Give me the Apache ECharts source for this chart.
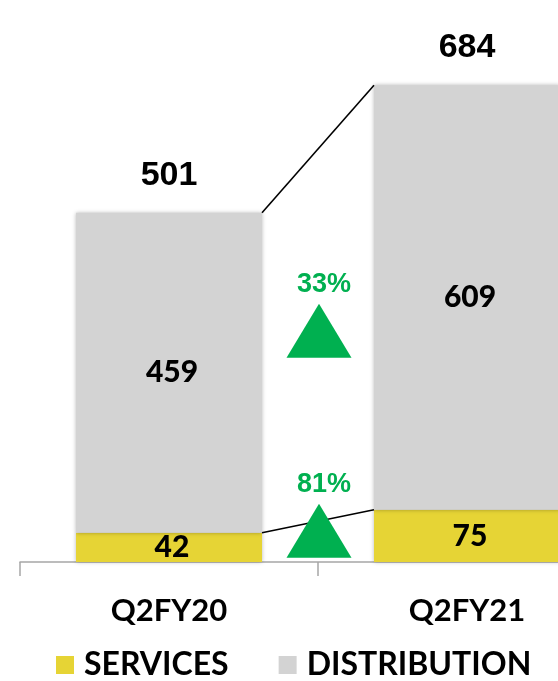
<!DOCTYPE html>
<html>
<head>
<meta charset="utf-8">
<script src="https://cdn.jsdelivr.net/npm/echarts@6/dist/echarts.min.js"></script>
<style>
html,body{margin:0;padding:0;background:#fff;}
#c{width:558px;height:681px;}
</style>
</head>
<body>
<div id="c"></div>
<script>
const categories = ['Q2FY20', 'Q2FY21'];
const services = [42, 75];
const distribution = [459, 609];
const totals = [501, 684];
const growth = ['33%', '81%'];
const seriesNames = ['SERVICES', 'DISTRIBUTION'];

const BAR_W = 186;
const YELLOW = '#E6D435';
const GRAY = '#D3D3D3';
const GREEN = '#00B050';
const CAT_FONT = 'Lato';
const NUM_FONT = 'Liberation Sans';

const chart = echarts.init(document.getElementById('c'), null, {renderer: 'canvas'});

const barShadow = {shadowBlur: 4, shadowColor: 'rgba(0,0,0,0.28)', shadowOffsetX: 0, shadowOffsetY: 0};
const innerLabel = {
  show: true, position: 'inside', color: '#000', fontFamily: CAT_FONT,
  fontWeight: 900, fontSize: 30, offset: [3, 0]
};

chart.setOption({
  animation: false,
  grid: {left: 20, width: 596, top: 74, bottom: 119, containLabel: false, outerBoundsMode: 'none'},
  legend: {
    data: seriesNames,
    left: 56, top: 649, padding: 0,
    icon: 'rect', itemWidth: 18, itemHeight: 18, itemGap: 50,
    textStyle: {color: '#000', fontFamily: CAT_FONT, fontWeight: 'bold', fontSize: 32, padding: [0, 0, 0, 5]}
  },
  xAxis: {
    type: 'category', data: categories,
    axisLine: {lineStyle: {color: '#A6A6A6', width: 1.5}},
    axisTick: {show: true, length: 14, lineStyle: {color: '#A6A6A6', width: 1.5}},
    axisLabel: {color: '#000', fontFamily: CAT_FONT, fontWeight: 'bold', fontSize: 31, margin: 33}
  },
  yAxis: {type: 'value', min: 0, max: 700, show: false, splitLine: {show: false}},
  series: [
    {
      name: seriesNames[0], type: 'bar', stack: 'total', barWidth: BAR_W,
      data: services, itemStyle: Object.assign({color: YELLOW}, barShadow),
      label: innerLabel
    },
    {
      name: seriesNames[1], type: 'bar', stack: 'total', barWidth: BAR_W,
      data: distribution, itemStyle: Object.assign({color: GRAY}, barShadow),
      label: innerLabel
    },
    {
      name: 'TOTAL', type: 'scatter', data: totals, symbolSize: 1,
      itemStyle: {color: 'rgba(0,0,0,0)', opacity: 1},
      label: {show: true, position: 'top', distance: 20, color: '#000',
        fontFamily: NUM_FONT, fontWeight: 'bold', fontSize: 34,
        formatter: p => String(p.value)}
    }
  ]
});

function drawAnnotations() {
  const toPx = (i, v) => chart.convertToPixel({seriesIndex: 0}, [i, v]);
  const half = BAR_W / 2;
  const levels = [totals, services];
  const arrowBaseValues = [293, 6];
  const TRI_W = 65, TRI_H = 54;
  const elements = [];
  levels.forEach((lv, k) => {
    const a = toPx(0, lv[0]);
    const b = toPx(1, lv[1]);
    elements.push({
      type: 'line', z: 10,
      shape: {x1: a[0] + half, y1: a[1], x2: b[0] - half, y2: b[1]},
      style: {stroke: '#000', lineWidth: 1.6}
    });
    const cx = (a[0] + b[0]) / 2 + 1;
    const baseY = toPx(0, arrowBaseValues[k])[1];
    const apexY = baseY - TRI_H;
    elements.push({
      type: 'polygon', z: 11,
      shape: {points: [[cx, apexY], [cx - TRI_W / 2, baseY], [cx + TRI_W / 2, baseY]]},
      style: {fill: GREEN}
    });
    elements.push({
      type: 'text', z: 12, x: cx + 5, y: apexY - 6,
      style: {text: growth[k], fill: GREEN, font: 'bold 27px "Liberation Sans"',
        textAlign: 'center', textVerticalAlign: 'bottom'}
    });
  });
  chart.setOption({graphic: {elements: elements}});
}
drawAnnotations();
</script>
</body>
</html>
